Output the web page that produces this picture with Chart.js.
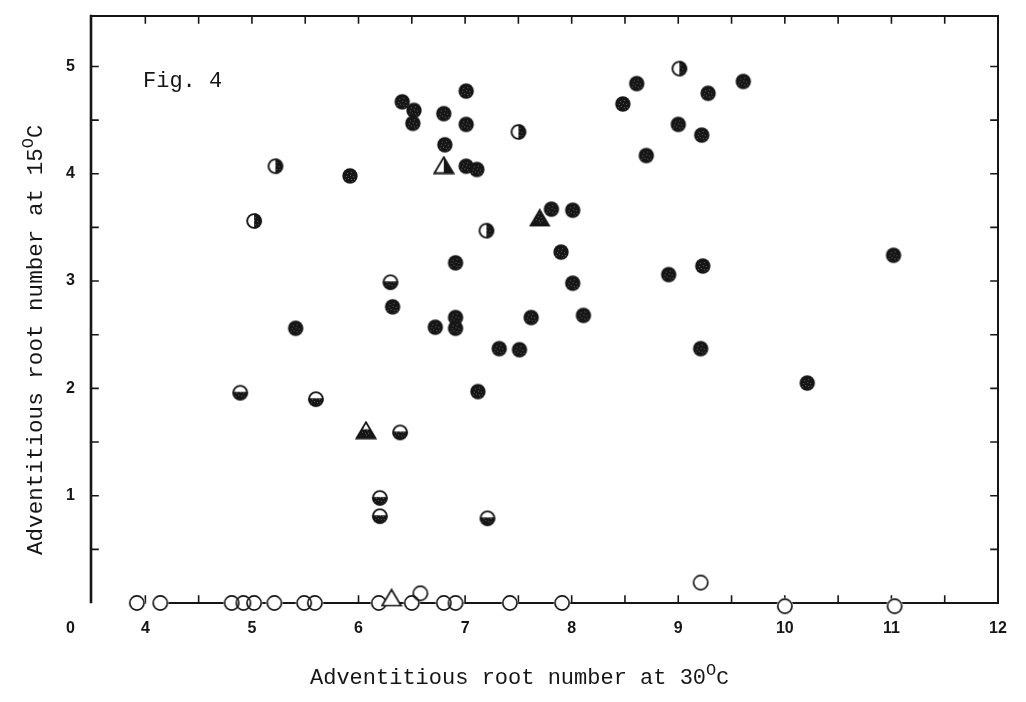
<!DOCTYPE html>
<html>
<head>
<meta charset="utf-8">
<script src="https://cdn.jsdelivr.net/npm/chart.js@4.4.1/dist/chart.umd.min.js"></script>
<style>
  html, body { margin: 0; padding: 0; background: #fff; }
  #wrap { width: 1026px; height: 702px; position: relative; }
</style>
</head>
<body>
<div id="wrap"><canvas id="chart"></canvas></div>
<script>
// Adventitious root number per plant: 30 °C (x) against 15 °C (y)

// Dark circles
const filledX = [6.41, 6.52, 6.51, 6.80, 7.01, 7.01, 6.81, 7.01, 7.11, 5.92,
                 8.61, 8.48, 9.28, 9.61, 9.00, 9.22, 8.70, 7.81, 8.01, 7.90,
                 6.91, 8.01, 6.32, 5.41, 6.72, 6.91, 6.91, 7.62, 8.11, 7.32,
                 7.51, 7.12, 8.91, 9.23, 9.21, 10.21, 11.02];
const filledY = [4.67, 4.59, 4.47, 4.56, 4.77, 4.46, 4.27, 4.07, 4.04, 3.98,
                 4.84, 4.65, 4.75, 4.86, 4.46, 4.36, 4.17, 3.67, 3.66, 3.27,
                 3.17, 2.98, 2.76, 2.56, 2.57, 2.66, 2.56, 2.66, 2.68, 2.37,
                 2.36, 1.97, 3.06, 3.14, 2.37, 2.05, 3.24];

// Circles dark on the right half
const halfRightX = [5.22, 5.02, 7.20, 7.50, 9.01];
const halfRightY = [4.07, 3.56, 3.47, 4.39, 4.98];

// Circles dark on the lower half
const halfLowerX = [6.30, 4.89, 5.60, 6.39, 6.20, 6.20, 7.21];
const halfLowerY = [2.99, 1.96, 1.90, 1.59, 0.98, 0.81, 0.79];

// Open circles
const openX = [3.92, 4.14, 4.81, 4.92, 5.02, 5.21, 5.49, 5.59, 6.19, 6.50,
               6.58, 6.80, 6.91, 7.42, 7.91, 9.21, 10.00, 11.03];
const openY = [0, 0, 0, 0, 0, 0, 0, 0, 0, 0,
               0.09, 0, 0, 0, 0, 0.19, -0.03, -0.03];

// Triangles
const triHalfRightX = [6.80];
const triHalfRightY = [4.08];
const triFilledX = [7.70];
const triFilledY = [3.59];
const triHalfLowerX = [6.07];
const triHalfLowerY = [1.61];
const triOpenX = [6.31];
const triOpenY = [0.05];

// Axes
const xTickValues = [4, 5, 6, 7, 8, 9, 10, 11, 12];
const yTickValues = [1, 2, 3, 4, 5];
const originLabel = '0';
const xRange = [3.49, 12];
const yRange = [0, 5.47];

// Texts
const figLabel = 'Fig. 4';
const xTitle = 'Adventitious root number at 30';
const yTitle = 'Adventitious root number at 15';
const degreeMark = 'O';
const unitMark = 'C';

const INK = '#161616';
const MONO = '"Liberation Mono", "DejaVu Sans Mono", monospace';
const TICK_FONT = 'bold 16px "Liberation Sans", Arial, sans-serif';
const TICK_LEN = 7;

function toPoints(xs, ys) { return xs.map((x, i) => ({ x, y: ys[i] })); }

// ---- marker sprites ----
function sprite(w, h, draw) {
  const c = document.createElement('canvas');
  c.width = w; c.height = h;
  draw(c.getContext('2d'), w, h);
  return c;
}
const R = 7.7;
const SPECKS = [[6, 6], [10, 5], [12, 9], [7, 11], [10, 12], [5, 9], [13, 12], [9, 8], [11, 14], [4, 12]];
function speckle(g) {
  g.fillStyle = 'rgba(255,255,255,0.32)';
  SPECKS.forEach(([sx, sy]) => g.fillRect(sx, sy, 1, 1));
}
function circle(g, cx, cy, r) { g.beginPath(); g.arc(cx, cy, r, 0, Math.PI * 2); }

const dotFilled = sprite(18, 18, (g) => {
  circle(g, 9, 9, R); g.fillStyle = INK; g.fill();
  g.save(); circle(g, 9, 9, R - 1.5); g.clip(); speckle(g); g.restore();
});
const dotHalfRight = sprite(18, 18, (g) => {
  circle(g, 9, 9, R); g.fillStyle = '#fff'; g.fill();
  g.save(); circle(g, 9, 9, R); g.clip();
  g.fillStyle = INK; g.fillRect(9, 0, 9, 18); speckle(g); g.restore();
  g.fillStyle = '#fff'; g.fillRect(2, 4, 6, 10);
  circle(g, 9, 9, R - 0.8); g.lineWidth = 1.9; g.strokeStyle = INK; g.stroke();
});
const dotHalfLower = sprite(18, 18, (g) => {
  circle(g, 9, 9, R); g.fillStyle = '#fff'; g.fill();
  g.save(); circle(g, 9, 9, R); g.clip();
  g.fillStyle = INK; g.fillRect(0, 8.2, 18, 10); speckle(g); g.restore();
  g.fillStyle = '#fff'; g.fillRect(4, 3, 10, 5);
  circle(g, 9, 9, R - 0.8); g.lineWidth = 1.9; g.strokeStyle = INK; g.stroke();
});
const dotOpenBack = sprite(18, 18, (g) => {
  circle(g, 9, 9, R + 0.6); g.fillStyle = '#fff'; g.fill();
});
const dotOpen = sprite(18, 18, (g) => {
  circle(g, 9, 9, R - 0.6); g.lineWidth = 1.7; g.strokeStyle = INK; g.stroke();
});

function triPath(g) {
  g.beginPath(); g.moveTo(11, 1.5); g.lineTo(20.5, 17.5); g.lineTo(1.5, 17.5); g.closePath();
}
const triFilled = sprite(22, 19, (g) => {
  triPath(g); g.fillStyle = INK; g.fill();
  g.lineWidth = 1.5; g.strokeStyle = INK; g.lineJoin = 'miter'; g.stroke();
  g.save(); triPath(g); g.clip(); speckle(g); g.restore();
});
const triHalfRight = sprite(22, 19, (g) => {
  triPath(g); g.fillStyle = '#fff'; g.fill();
  g.save(); triPath(g); g.clip(); g.fillStyle = INK; g.fillRect(11, 0, 11, 19); g.restore();
  triPath(g); g.lineWidth = 1.8; g.strokeStyle = INK; g.stroke();
});
const triHalfLower = sprite(22, 19, (g) => {
  triPath(g); g.fillStyle = '#fff'; g.fill();
  g.save(); triPath(g); g.clip(); g.fillStyle = INK; g.fillRect(0, 8.5, 22, 11); speckle(g); g.restore();
  triPath(g); g.lineWidth = 1.8; g.strokeStyle = INK; g.stroke();
});
const triOpen = sprite(22, 19, (g) => {
  triPath(g); g.fillStyle = '#fff'; g.fill();
  g.lineWidth = 1.7; g.strokeStyle = INK; g.stroke();
});

// ---- frame, ticks and text ----
function drawRun(ctx, parts, x, y) {
  let cx = x;
  parts.forEach((p) => {
    ctx.font = p.font;
    ctx.fillText(p.text, cx, y + (p.dy || 0));
    cx += ctx.measureText(p.text).width;
  });
}

const framePlugin = {
  id: 'frame',
  beforeDatasetsDraw(chart) {
    const { ctx, chartArea: a, scales: { x, y } } = chart;
    ctx.save();
    ctx.strokeStyle = INK;
    ctx.lineCap = 'square';
    ctx.lineWidth = 2;
    ctx.beginPath();
    ctx.moveTo(a.left, a.top); ctx.lineTo(a.right, a.top);
    ctx.lineTo(a.right, a.bottom); ctx.lineTo(a.left + 75, a.bottom);
    ctx.stroke();
    ctx.lineWidth = 2.6;
    ctx.beginPath(); ctx.moveTo(a.left, a.top); ctx.lineTo(a.left, a.bottom - 1); ctx.stroke();

    ctx.lineWidth = 1.6;
    ctx.beginPath();
    for (let v = xTickValues[0]; v < x.max - 0.01; v += 0.5) {
      const px = x.getPixelForValue(v);
      ctx.moveTo(px, a.top); ctx.lineTo(px, a.top + TICK_LEN);
      ctx.moveTo(px, a.bottom); ctx.lineTo(px, a.bottom - TICK_LEN);
    }
    for (let v = 0.5; v < y.max - 0.01; v += 0.5) {
      const py = y.getPixelForValue(v);
      ctx.moveTo(a.left, py); ctx.lineTo(a.left + TICK_LEN, py);
      ctx.moveTo(a.right, py); ctx.lineTo(a.right - TICK_LEN, py);
    }
    ctx.stroke();
    ctx.restore();
  },
  afterDraw(chart) {
    const { ctx, chartArea: a } = chart;
    ctx.save();
    ctx.fillStyle = INK;

    // origin label, on the line of the x tick labels
    ctx.font = TICK_FONT;
    ctx.textAlign = 'right';
    ctx.textBaseline = 'middle';
    ctx.fillText(originLabel, a.left - 16, a.bottom + 16 + 9.6);

    ctx.textAlign = 'left';
    ctx.textBaseline = 'alphabetic';

    // figure label
    ctx.font = '22px ' + MONO;
    ctx.fillText(figLabel, a.left + 52, a.top + 71);

    // x title
    drawRun(ctx, [
      { text: xTitle, font: '22px ' + MONO },
      { text: degreeMark, font: '17px ' + MONO, dy: -9 },
      { text: unitMark, font: '21px ' + MONO }
    ], a.left + 219, a.bottom + 81);

    // y title
    ctx.translate(42, a.bottom - 48);
    ctx.rotate(-Math.PI / 2);
    drawRun(ctx, [
      { text: yTitle, font: '22.6px ' + MONO },
      { text: degreeMark, font: '17px ' + MONO, dy: -9 },
      { text: unitMark, font: '22px ' + MONO }
    ], 0, 0);
    ctx.restore();
  }
};

function series(xs, ys, style) {
  return {
    data: toPoints(xs, ys),
    pointStyle: style,
    pointRadius: 8,
    showLine: false,
    clip: false
  };
}

function noEdgePadding(s) {
  s.paddingTop = 0; s.paddingBottom = 0; s.paddingLeft = 0; s.paddingRight = 0;
}

new Chart(document.getElementById('chart'), {
  type: 'scatter',
  data: {
    // earlier entries are painted on top
    datasets: [
      series(filledX, filledY, dotFilled),
      series(halfRightX, halfRightY, dotHalfRight),
      series(halfLowerX, halfLowerY, dotHalfLower),
      series(triFilledX, triFilledY, triFilled),
      series(triHalfRightX, triHalfRightY, triHalfRight),
      series(triHalfLowerX, triHalfLowerY, triHalfLower),
      series(triOpenX, triOpenY, triOpen),
      series(openX, openY, dotOpen),
      series(openX, openY, dotOpenBack)
    ]
  },
  options: {
    responsive: true,
    maintainAspectRatio: false,
    animation: false,
    events: [],
    layout: { padding: { left: 0, top: 16, right: 28, bottom: 0 } },
    plugins: { legend: { display: false }, tooltip: { enabled: false } },
    scales: {
      x: {
        type: 'linear',
        min: xRange[0], max: xRange[1],
        grid: { display: false, drawTicks: false },
        border: { display: false },
        afterBuildTicks: (s) => { s.ticks = xTickValues.map((v) => ({ value: v })); },
        afterFit: (s) => { s.height = 99; noEdgePadding(s); },
        ticks: { font: { family: '"Liberation Sans", Arial, sans-serif', size: 16, weight: 'bold' },
                 color: INK, padding: 16, maxRotation: 0, autoSkip: false }
      },
      y: {
        type: 'linear',
        min: yRange[0], max: yRange[1],
        grid: { display: false, drawTicks: false },
        border: { display: false },
        afterBuildTicks: (s) => { s.ticks = yTickValues.map((v) => ({ value: v })); },
        afterFit: (s) => { s.width = 91; noEdgePadding(s); },
        ticks: { font: { family: '"Liberation Sans", Arial, sans-serif', size: 16, weight: 'bold' },
                 color: INK, padding: 16, autoSkip: false }
      }
    }
  },
  plugins: [framePlugin]
});
</script>
</body>
</html>
